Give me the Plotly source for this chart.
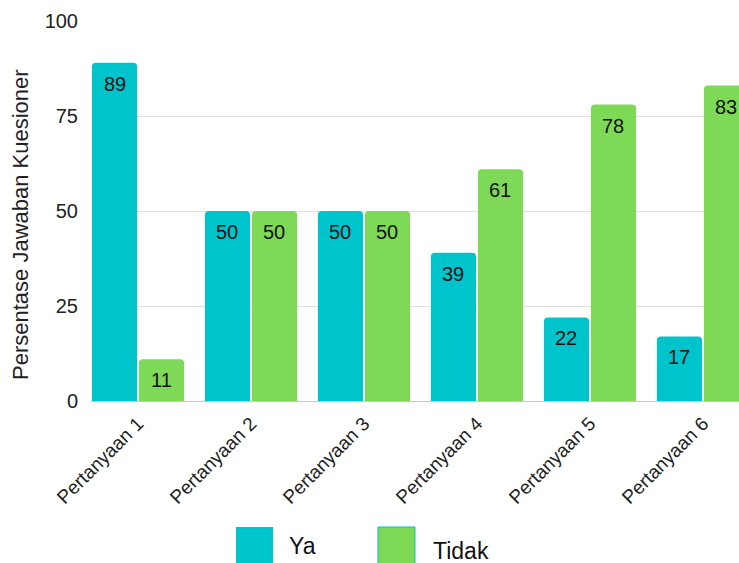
import plotly.graph_objects as go

categories = ["Pertanyaan 1", "Pertanyaan 2", "Pertanyaan 3", "Pertanyaan 4", "Pertanyaan 5", "Pertanyaan 6"]
ya = [89, 50, 50, 39, 22, 17]
tidak = [11, 50, 50, 61, 78, 83]
series_names = ["Ya", "Tidak"]
y_ticks = [0, 25, 50, 75, 100]
y_title = "Persentase Jawaban Kuesioner"

TEAL = "#00C4CC"
GREEN = "#7ED957"
FONT = "Liberation Sans, Arial, sans-serif"

fig = go.Figure()
fig.add_trace(go.Bar(x=categories, y=ya, name=series_names[0], marker=dict(color=TEAL, line=dict(width=0)), showlegend=False))
fig.add_trace(go.Bar(x=categories, y=tidak, name=series_names[1], marker=dict(color=GREEN, line=dict(width=0)), showlegend=False))

annotations = []
for vals, shift in ((ya, -23.5), (tidak, 23.5)):
    for c, v in zip(categories, vals):
        annotations.append(dict(x=c, y=v, xref="x", yref="y", text=str(v), showarrow=False,
                                xshift=shift, yshift=-21, yanchor="middle",
                                font=dict(family=FONT, size=20, color="#111")))

# y axis title
annotations.append(dict(xref="paper", yref="paper", x=(20-91)/648, y=(401-225)/380, text=y_title,
                        textangle=-90, showarrow=False, xanchor="center", yanchor="middle",
                        font=dict(family=FONT, size=22, color="#222")))

# legend drawn at the bottom
shapes = [
    dict(type="rect", xref="paper", yref="paper", x0=(236-91)/648, x1=(273-91)/648,
         y0=-(527-401)/380, y1=-(564-401)/380, fillcolor=TEAL, line=dict(width=0)),
    dict(type="rect", xref="paper", yref="paper", x0=(378-91)/648, x1=(415-91)/648,
         y0=-(527-401)/380, y1=-(564-401)/380, fillcolor=GREEN, line=dict(width=1, color=TEAL)),
]
annotations.append(dict(xref="paper", yref="paper", x=(287-91)/648, y=-(546-401)/380, text=series_names[0],
                        showarrow=False, xanchor="left", yanchor="middle", font=dict(family=FONT, size=23, color="#111")))
annotations.append(dict(xref="paper", yref="paper", x=(431-91)/648, y=-(551-401)/380, text=series_names[1],
                        showarrow=False, xanchor="left", yanchor="middle", font=dict(family=FONT, size=23, color="#111")))

fig.update_layout(
    width=739, height=563,
    margin=dict(l=91, r=0, t=21, b=162, autoexpand=False),
    paper_bgcolor="white", plot_bgcolor="white",
    barmode="group", bargap=0.168, bargroupgap=0.04, barcornerradius=4,
    font=dict(family=FONT, color="#222"),
    annotations=annotations, shapes=shapes,
    showlegend=False,
)
fig.update_xaxes(range=[-0.416, 5.319], tickangle=-45, tickfont=dict(size=19, color="#222"),
                 showline=True, linecolor="#c8c8c8", linewidth=1, showgrid=False, ticks="",
                 ticklabelstandoff=3, automargin=False)
fig.update_yaxes(range=[0, 100], tickvals=y_ticks, tickfont=dict(size=20, color="#222"),
                 showgrid=True, gridcolor="#e0e0e0", gridwidth=1, zeroline=False,
                 ticklabelstandoff=12, automargin=False)

fig.write_html("out.html")
